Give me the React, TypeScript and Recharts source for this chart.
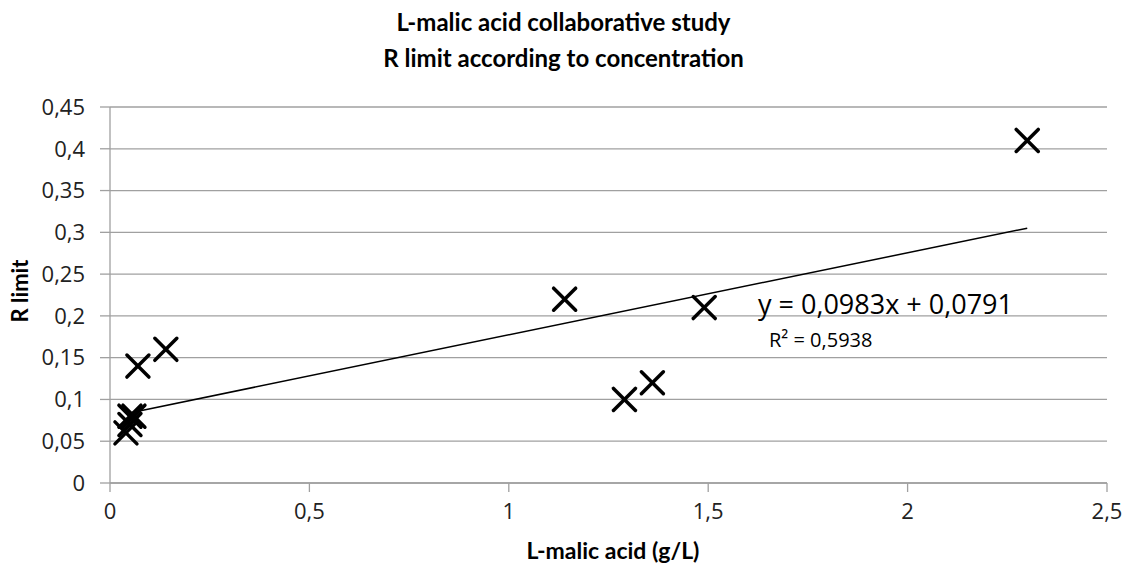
import React from "react";
import { ScatterChart, Scatter, XAxis, YAxis, CartesianGrid } from "recharts";

// measured points (L-malic acid g/L, R limit)
const concentrations = [0.04, 0.05, 0.05, 0.06, 0.07, 0.14, 1.14, 1.29, 1.36, 1.49, 2.3];
const rLimits = [0.06, 0.07, 0.08, 0.08, 0.14, 0.16, 0.22, 0.1, 0.12, 0.21, 0.41];

// linear trend line endpoints
const trendX = [0.04, 2.3];
const trendY = [0.083, 0.305];

const xTicks = [0, 0.5, 1, 1.5, 2, 2.5];
const yTicks = [0, 0.05, 0.1, 0.15, 0.2, 0.25, 0.3, 0.35, 0.4, 0.45];

const points = concentrations.map((x, i) => ({ x, y: rLimits[i] }));
const trend = trendX.map((x, i) => ({ x, y: trendY[i] }));

const FONT = "'Open Sans', 'Lato', sans-serif";
const GRID = "#a0a0a0";
const comma = (v: number) => String(v).replace(".", ",");

function Cross(props: any) {
  const { cx, cy } = props;
  if (cx == null || cy == null) return null;
  const r = 11;
  return (
    <g stroke="#000" strokeWidth={3.5} strokeLinecap="round">
      <line x1={cx - r} y1={cy - r} x2={cx + r} y2={cy + r} />
      <line x1={cx - r} y1={cy + r} x2={cx + r} y2={cy - r} />
    </g>
  );
}

const tickStyle = { fontSize: 22, fontFamily: FONT, fill: "#222" };

export default function App() {
  return (
    <div style={{ position: "absolute", left: 0, top: 0, width: 1127, height: 569, background: "#fff", fontFamily: FONT }}>
      <div style={{ position: "absolute", left: 0, width: 1127, top: 4, textAlign: "center", fontFamily: "Lato, sans-serif", fontWeight: 700, fontSize: 24, lineHeight: "36px", color: "#000" }}>
        L-malic acid collaborative study
        <br />
        R limit according to concentration
      </div>
      <ScatterChart width={1127} height={569} margin={{ top: 107, right: 20, bottom: 0, left: 30 }}>
        <CartesianGrid horizontal vertical={false} stroke={GRID} strokeWidth={1.3} />
        <XAxis
          type="number"
          dataKey="x"
          domain={[0, 2.5]}
          ticks={xTicks}
          tickFormatter={comma}
          tick={tickStyle}
          tickSize={9}
          tickMargin={11}
          height={86}
          axisLine={{ stroke: GRID, strokeWidth: 1.3 }}
          tickLine={{ stroke: GRID, strokeWidth: 1.3 }}
          interval={0}
        />
        <YAxis
          type="number"
          dataKey="y"
          domain={[0, 0.45]}
          ticks={yTicks}
          tickFormatter={comma}
          tick={tickStyle}
          tickSize={10}
          tickMargin={15}
          width={80}
          axisLine={{ stroke: GRID, strokeWidth: 1.3 }}
          tickLine={{ stroke: GRID, strokeWidth: 1.3 }}
          interval={0}
        />
        <Scatter data={trend} line={{ stroke: "#000", strokeWidth: 1.5 }} shape={() => <g />} isAnimationActive={false} />
        <Scatter data={points} shape={Cross} isAnimationActive={false} />
      </ScatterChart>
      <div style={{ position: "absolute", left: 758, top: 286, fontSize: 27, color: "#000", whiteSpace: "nowrap", lineHeight: "36px" }}>
        y = 0,0983x + 0,0791
      </div>
      <div style={{ position: "absolute", left: 769, top: 326, fontSize: 20, color: "#000", whiteSpace: "nowrap", lineHeight: "28px" }}>
        R² = 0,5938
      </div>
      <div style={{ position: "absolute", left: 613, top: 550, transform: "translate(-50%, -50%)", fontFamily: "Lato, sans-serif", fontWeight: 700, fontSize: 23, color: "#000", whiteSpace: "nowrap" }}>
        L-malic acid (g/L)
      </div>
      <div style={{ position: "absolute", left: 19, top: 291, transform: "translate(-50%, -50%) rotate(-90deg)", fontFamily: "Lato, sans-serif", fontWeight: 700, fontSize: 22, color: "#000", whiteSpace: "nowrap" }}>
        R limit
      </div>
    </div>
  );
}
